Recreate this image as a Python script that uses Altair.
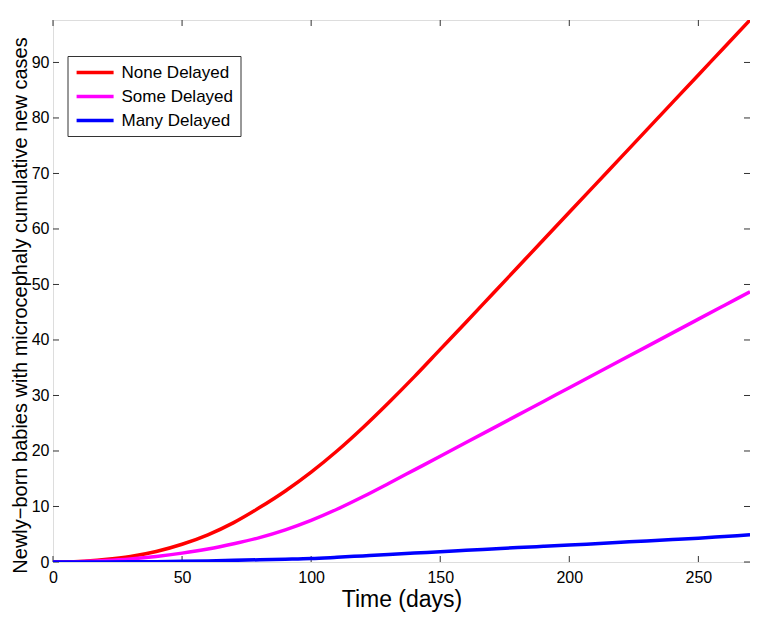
import altair as alt
import pandas as pd

# ---- data ----
days = [0, 10, 20, 30, 40, 50, 60, 70, 80, 90, 100, 110, 120, 130, 140,
        150, 160, 170, 180, 190, 200, 210, 220, 230, 240, 250, 260, 270]
none_delayed = [0.0, 0.1, 0.45, 1.0, 1.9, 3.2, 4.9, 7.1, 9.8, 12.8, 16.2, 20.0, 24.2, 28.7,
                33.4, 38.3, 43.2, 48.15, 53.1, 58.05, 63.0, 67.95, 72.9, 77.85, 82.8, 87.75, 92.7, 97.65]
some_delayed = [0.0, 0.05, 0.25, 0.55, 1.0, 1.6, 2.35, 3.3, 4.4, 5.8, 7.5, 9.5, 11.75, 14.15,
                16.6, 19.05, 21.52, 23.99, 26.46, 28.93, 31.4, 33.87, 36.34, 38.81, 41.28, 43.75, 46.22, 48.69]
many_delayed = [0.0, 0.0, 0.01, 0.03, 0.06, 0.12, 0.2, 0.3, 0.4, 0.5, 0.62, 0.85, 1.1, 1.35,
                1.6, 1.85, 2.1, 2.35, 2.6, 2.82, 3.05, 3.3, 3.55, 3.8, 4.05, 4.3, 4.6, 4.9]
series_names = ["None Delayed", "Some Delayed", "Many Delayed"]
series_colors = ["#ff0000", "#ff00ff", "#0000ff"]
x_ticks = [0, 50, 100, 150, 200, 250]
y_ticks = [0, 10, 20, 30, 40, 50, 60, 70, 80, 90]
X_MAX = 270
Y_MAX = 97.65

rows = []
for name, vals in zip(series_names, [none_delayed, some_delayed, many_delayed]):
    for d, v in zip(days, vals):
        rows.append({"day": d, "cases": v, "series": name})
df = pd.DataFrame(rows)
xt = pd.DataFrame({"v": x_ticks})
yt = pd.DataFrame({"v": y_ticks})

LEFT = 45          # plot-area left offset inside the svg
W, H = 697, 542
FONT = "Liberation Sans"

xscale = alt.Scale(domain=[0, X_MAX], nice=False, zero=False)
yscale = alt.Scale(domain=[0, Y_MAX], nice=False, zero=False)

x_axis = alt.Axis(values=x_ticks, ticks=False, domain=False, grid=False,
                  labelFontSize=16, labelFont=FONT, labelColor="black",
                  labelBaseline="alphabetic", labelPadding=20, labelFlush=False,
                  title="Time (days)", titleFontSize=23, titleFont=FONT,
                  titleFontWeight="normal", titleColor="black",
                  titleBaseline="alphabetic", titleY=44.5)
y_axis = alt.Axis(values=y_ticks, ticks=False, domain=False, grid=False,
                  labelFontSize=16, labelFont=FONT, labelColor="black",
                  labelPadding=4,
                  title="Newly\u2212born babies with microcephaly cumulative new cases",
                  titleFontSize=20, titleFont=FONT, titleFontWeight="normal",
                  titleColor="black", titleBaseline="alphabetic", titleAngle=270,
                  titleX=-26.5, titleY=285, titleAlign="center")

color = alt.Color("series:N",
                  scale=alt.Scale(domain=series_names, range=series_colors),
                  sort=series_names,
                  legend=alt.Legend(orient="none", legendX=14.5, legendY=36,
                                    title=None, symbolType="M-1,0H4", symbolSize=219,
                                    symbolStrokeWidth=3.3, labelFontSize=17,
                                    labelFont=FONT, labelColor="black",
                                    labelOffset=28, rowPadding=6, padding=7,
                                    strokeColor="#333", fillColor="white",
                                    cornerRadius=0))

layers = []
for name in series_names:
    layers.append(
        alt.Chart(df).transform_filter(alt.datum.series == name)
        .mark_line(strokeWidth=3.5, interpolate="monotone", clip=True)
        .encode(x=alt.X("day:Q", scale=xscale, axis=x_axis),
                y=alt.Y("cases:Q", scale=yscale, axis=y_axis),
                color=color)
    )

TICK = 6
tick_color = "#333"
bottom_ticks = alt.Chart(xt).mark_rule(color=tick_color, strokeWidth=1).encode(
    x=alt.X("v:Q", scale=xscale, axis=x_axis), y=alt.value(H), y2=alt.value(H - TICK))
top_ticks = alt.Chart(xt).mark_rule(color=tick_color, strokeWidth=1).encode(
    x=alt.X("v:Q", scale=xscale, axis=x_axis), y=alt.value(0), y2=alt.value(TICK))
left_ticks = alt.Chart(yt).mark_rule(color=tick_color, strokeWidth=1).encode(
    y=alt.Y("v:Q", scale=yscale, axis=y_axis), x=alt.value(0), x2=alt.value(TICK))
right_ticks = alt.Chart(yt).mark_rule(color=tick_color, strokeWidth=1).encode(
    y=alt.Y("v:Q", scale=yscale, axis=y_axis), x=alt.value(W), x2=alt.value(W - TICK))

chart = alt.layer(bottom_ticks, top_ticks, left_ticks, right_ticks, *layers).properties(
    width=W, height=H,
    autosize=alt.AutoSizeParams(type="none"),
    padding={"left": LEFT, "top": 12, "right": 0, "bottom": 50},
).configure_view(stroke="#333", strokeWidth=1).configure(background="white")

chart.save("out.html", embed_options={"renderer": "svg", "actions": False})
